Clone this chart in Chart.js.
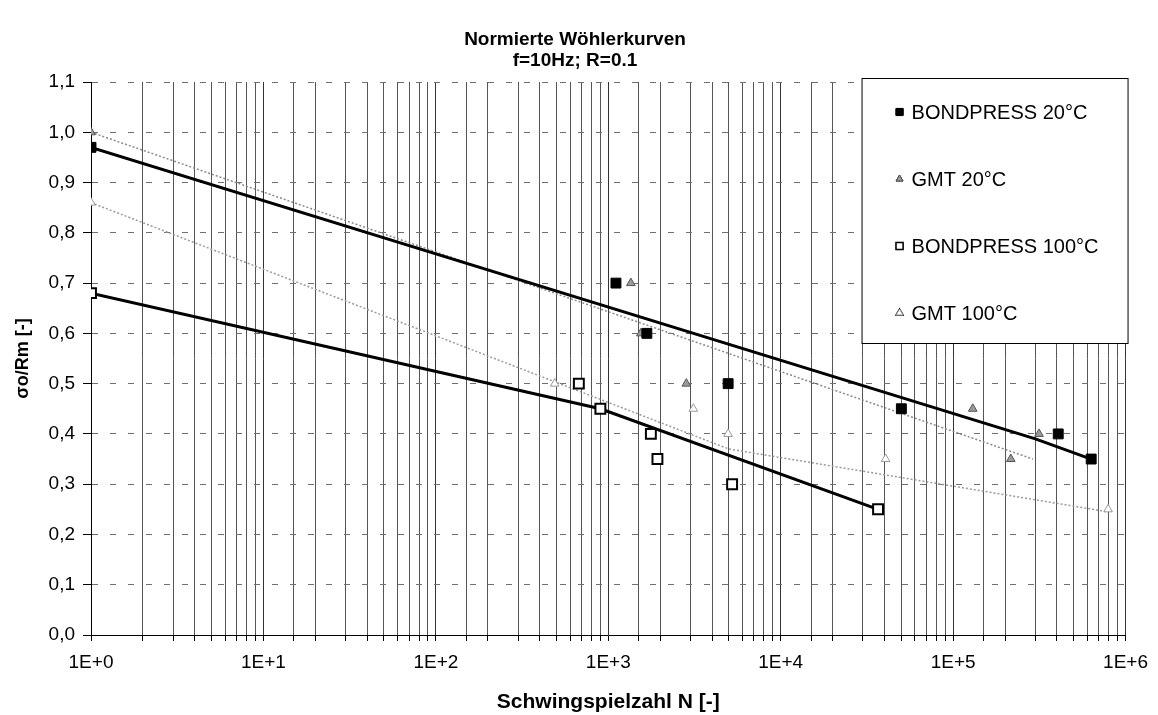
<!DOCTYPE html>
<html>
<head>
<meta charset="utf-8">
<script src="https://cdn.jsdelivr.net/npm/chart.js@4/dist/chart.umd.min.js"></script>
<style>
  html, body { margin: 0; padding: 0; background: #fff; }
  #wrap { width: 1158px; height: 715px; position: relative; }
</style>
</head>
<body>
<div id="wrap"><canvas id="myChart" width="1158" height="715"></canvas></div>
<script>
// measured points, N = Schwingspielzahl, S = sigma_o / Rm
const bp20N = [1, 1108, 1674, 4956, 50100, 407000, 632000];
const bp20S = [0.97, 0.70, 0.60, 0.50, 0.45, 0.40, 0.35];
const gmt20N = [1, 1352, 1545, 2836, 130000, 216000, 315000];
const gmt20S = [1.00, 0.70, 0.60, 0.50, 0.45, 0.35, 0.40];
const bp100N = [1, 675, 900, 1766, 1928, 5226, 36700];
const bp100S = [0.68, 0.50, 0.45, 0.40, 0.35, 0.30, 0.25];
const gmt100N = [1, 489, 3112, 4956, 40600, 792000];
const gmt100S = [0.86, 0.50, 0.45, 0.40, 0.35, 0.25];

// trend lines
const bp20TrendN = [1, 300000, 632000];
const bp20TrendS = [0.97, 0.39, 0.35];
const gmt20TrendN = [1, 290000];
const gmt20TrendS = [1.00, 0.35];
const bp100TrendN = [1, 900, 36700];
const bp100TrendS = [0.68, 0.45, 0.25];
const gmt100TrendN = [1, 5000, 792000];
const gmt100TrendS = [0.86, 0.37, 0.245];

const seriesNames = ['BONDPRESS 20°C', 'GMT 20°C', 'BONDPRESS 100°C', 'GMT 100°C'];
const titleLines = ['Normierte Wöhlerkurven', 'f=10Hz; R=0.1'];
const xTitle = 'Schwingspielzahl N [-]';
const yTitle = 'σo/Rm [-]';

const FONT = "'Liberation Sans', Arial, sans-serif";

function toXY(xs, ys) {
	return xs.map((x, i) => ({x: x, y: ys[i]}));
}

function pointSet(label, xs, ys, style, radius, fill, stroke, bw) {
	return {
		type: 'scatter',
		label: label,
		data: toXY(xs, ys),
		pointStyle: style,
		pointRadius: radius,
		pointHoverRadius: radius,
		backgroundColor: fill,
		borderColor: stroke,
		borderWidth: bw,
		showLine: false,
		order: 1
	};
}

function trendSet(xs, ys, color, width, dash) {
	return {
		type: 'line',
		label: '',
		data: toXY(xs, ys),
		borderColor: color,
		borderWidth: width,
		borderDash: dash,
		pointRadius: 0,
		fill: false,
		tension: 0,
		order: 2
	};
}

// legend box sitting inside the plot, top right
const boxLegend = {
	id: 'boxLegend',
	afterDraw(chart) {
		const ctx = chart.ctx;
		const area = chart.chartArea;
		const w = 266, h = 265;
		const left = area.right + 2 - w;
		const top = area.top - 4;
		ctx.save();
		ctx.fillStyle = '#fff';
		ctx.fillRect(left, top, w, h);
		ctx.strokeStyle = '#000';
		ctx.lineWidth = 1;
		ctx.strokeRect(left + 0.5, top + 0.5, w, h);
		ctx.font = '20px ' + FONT;
		ctx.textBaseline = 'middle';
		for (let i = 0; i < seriesNames.length; i++) {
			const ds = chart.data.datasets[i];
			const y = top + 34 + i * 67;
			const r = ds.pointStyle === 'rect' ? 5 : 4;
			Chart.helpers.drawPoint(ctx, {
				pointStyle: ds.pointStyle,
				radius: r,
				borderWidth: 1
			}, left + 38, y);
			ctx.fillStyle = ds.backgroundColor;
			ctx.strokeStyle = ds.borderColor;
			ctx.lineWidth = i === 2 ? 1.5 : 1;
			ctx.fill();
			ctx.stroke();
			ctx.fillStyle = '#000';
			ctx.fillText(seriesNames[i], left + 50, y + 1);
		}
		ctx.restore();
	}
};

function xLabel(value) {
	const e = Math.round(Math.log10(value));
	if (Math.abs(Math.pow(10, e) - value) < 1e-6 * value) {
		return '1E+' + e;
	}
	return '';
}

function createChart(canvas_name) {
	const ctx = document.getElementById(canvas_name).getContext('2d');
	return new Chart(ctx, {
		data: {
			datasets: [
				pointSet(seriesNames[0], bp20N, bp20S, 'rect', 7, '#000', '#000', 1),
				pointSet(seriesNames[1], gmt20N, gmt20S, 'triangle', 5, '#9a9a9a', '#555', 1),
				pointSet(seriesNames[2], bp100N, bp100S, 'rect', 7, '#fff', '#000', 2),
				pointSet(seriesNames[3], gmt100N, gmt100S, 'triangle', 5, '#fff', '#999', 1),
				trendSet(bp20TrendN, bp20TrendS, '#000', 3, []),
				trendSet(gmt20TrendN, gmt20TrendS, '#8a8a8a', 1.5, [2, 2]),
				trendSet(bp100TrendN, bp100TrendS, '#000', 3, []),
				trendSet(gmt100TrendN, gmt100TrendS, '#9a9a9a', 1.5, [2, 2])
			]
		},
		options: {
			responsive: false,
			animation: false,
			layout: { padding: { left: 20, right: 28, top: 0, bottom: 0 } },
			plugins: {
				legend: { display: false },
				tooltip: { enabled: false },
				title: {
					display: true,
					text: titleLines,
					color: '#000',
					font: { family: FONT, size: 19, weight: 'bold', lineHeight: 1.1 },
					padding: { top: 29.5, bottom: 10.7 }
				}
			},
			scales: {
				x: {
					type: 'logarithmic',
					min: 1,
					max: 1000000,
					afterFit: (scale) => { scale.height = 80; },
					border: { color: '#000', width: 1 },
					grid: {
						color: (c) => (xLabel(c.tick.value) ? '#333' : '#555'),
						lineWidth: 1,
						tickLength: 6,
						tickColor: '#000'
					},
					ticks: {
						autoSkip: false,
						maxRotation: 0,
						padding: 10,
						color: '#000',
						font: { family: FONT, size: 19 },
						callback: (value) => xLabel(value)
					},
					title: {
						display: true,
						text: xTitle,
						color: '#000',
						font: { family: FONT, size: 21, weight: 'bold', lineHeight: 1.2 },
						padding: { top: 0, bottom: 0 }
					}
				},
				y: {
					min: 0,
					max: 1.1,
					afterFit: (scale) => { scale.width = 71; },
					border: { color: '#000', width: 1, dash: [6, 12] },
					grid: {
						color: '#707070',
						lineWidth: 1,
						tickLength: 8,
						tickColor: '#000'
					},
					ticks: {
						stepSize: 0.1,
						padding: 8,
						color: '#000',
						font: { family: FONT, size: 19 },
						callback: (value) => value.toFixed(1).replace('.', ',')
					},
					title: {
						display: true,
						text: yTitle,
						color: '#000',
						font: { family: FONT, size: 18, weight: 'bold', lineHeight: 1.2 },
						padding: { top: -8, bottom: 0 }
					}
				}
			}
		},
		plugins: [boxLegend]
	});
}

createChart('myChart');
</script>
</body>
</html>
